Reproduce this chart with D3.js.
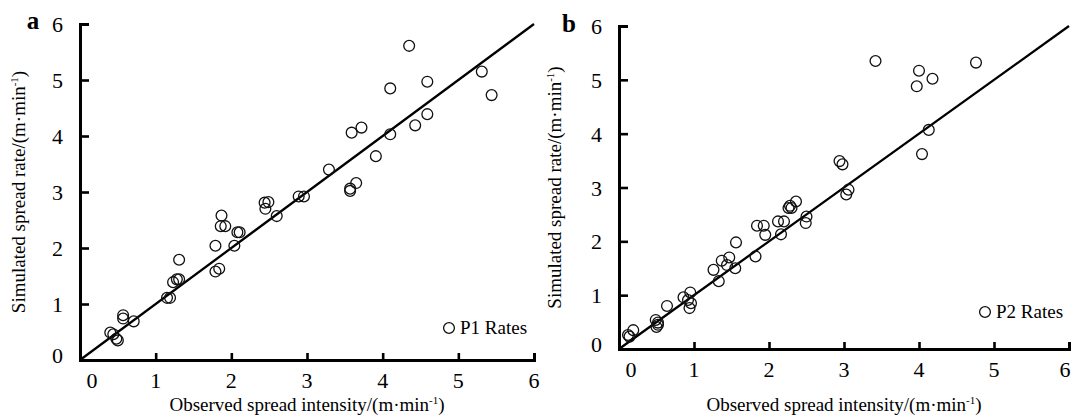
<!DOCTYPE html>
<html>
<head>
<meta charset="utf-8">
<script src="https://cdn.jsdelivr.net/npm/d3@7"></script>
<style>
  html, body { margin: 0; padding: 0; background: #fff; }
  svg { display: block; }
</style>
</head>
<body>
<div id="chart"></div>
<script>
// tick labels, shared by both panels
const axisTicks = [0, 1, 2, 3, 4, 5, 6]

// panel a (P1)
const p1Obs = [0.40, 0.44, 0.48, 0.50, 0.57, 0.57, 0.71, 1.15, 1.19, 1.23, 1.28, 1.31, 1.31,
  1.79, 1.84, 1.79, 2.04, 1.87, 1.86, 1.92, 2.08, 2.11, 2.44, 2.49, 2.45, 2.60, 2.89, 2.96,
  3.29, 3.57, 3.57, 3.65, 3.59, 3.72, 3.91, 4.10, 4.43, 4.59, 4.10, 4.59, 4.35, 5.31, 5.44]
const p1Sim = [0.49, 0.46, 0.38, 0.35, 0.80, 0.74, 0.69, 1.11, 1.11, 1.39, 1.44, 1.44, 1.79,
  1.58, 1.63, 2.04, 2.04, 2.58, 2.39, 2.39, 2.28, 2.28, 2.81, 2.82, 2.70, 2.57, 2.92, 2.92,
  3.40, 3.06, 3.02, 3.16, 4.06, 4.15, 3.64, 4.03, 4.19, 4.39, 4.85, 4.97, 5.61, 5.15, 4.73]

// panel b (P2)
const p2Obs = [0.19, 0.12, 0.14, 0.49, 0.52, 0.52, 0.50, 0.64, 0.86, 0.95, 0.92, 0.96, 0.94,
  1.26, 1.33, 1.37, 1.47, 1.44, 1.55, 1.56, 1.82, 1.84, 1.93, 1.95, 2.12, 2.20, 2.16,
  2.36, 2.28, 2.30, 2.26, 2.50, 2.49, 2.94, 2.98, 3.06, 3.03, 3.42, 4.00, 4.18, 3.97, 4.76,
  4.13, 4.04]
const p2Sim = [0.35, 0.26, 0.23, 0.54, 0.49, 0.45, 0.41, 0.80, 0.96, 1.05, 0.91, 0.85, 0.76,
  1.47, 1.26, 1.64, 1.70, 1.56, 1.50, 1.98, 1.72, 2.29, 2.29, 2.12, 2.37, 2.37, 2.13,
  2.74, 2.66, 2.62, 2.62, 2.46, 2.34, 3.49, 3.43, 2.96, 2.87, 5.35, 5.17, 5.02, 4.88, 5.32,
  4.07, 3.62]

const panels = [
  { tag: 'a', legend: 'P1 Rates', obs: p1Obs, sim: p1Sim,
    x0: 80, x1: 534, y0: 360, y1: 24, yTitleX: 19, tagX: 33, tagY: 29,
    legX: 449, legY: 328, titleY: 411 },
  { tag: 'b', legend: 'P2 Rates', obs: p2Obs, sim: p2Sim,
    x0: 619, x1: 1069, y0: 349, y1: 26, yTitleX: 555, tagX: 569, tagY: 32,
    legX: 985, legY: 312, titleY: 411 },
]

const FONT = "'Liberation Serif', 'Times New Roman', serif"

const svg = d3.select('#chart').append('svg')
  .attr('width', 1071)
  .attr('height', 416)
  .style('font-family', FONT)

function unitText(sel, label) {
  sel.append('tspan').text(label + '/(m·min')
  sel.append('tspan').attr('dy', -7).attr('font-size', '11px').text('-1')
  sel.append('tspan').attr('dy', 7).text(')')
}

panels.forEach(p => {
  const x = d3.scaleLinear().domain([0, 6]).range([p.x0, p.x1])
  const y = d3.scaleLinear().domain([0, 6]).range([p.y0, p.y1])
  const g = svg.append('g')

  // 1:1 line
  g.append('line')
    .attr('x1', x(0)).attr('y1', y(0))
    .attr('x2', x(6)).attr('y2', y(6))
    .attr('stroke', '#000').attr('stroke-width', 2.3)

  // points
  g.append('g').selectAll('circle')
    .data(p.obs.map((v, i) => [v, p.sim[i]]))
    .join('circle')
    .attr('cx', d => x(d[0]))
    .attr('cy', d => y(d[1]))
    .attr('r', 5.4)
    .attr('fill', 'none')
    .attr('stroke', '#111')
    .attr('stroke-width', 1.3)

  // axes (ticks inward)
  const xAxis = g.append('g')
    .attr('transform', `translate(0,${p.y0})`)
    .call(d3.axisTop(x).tickValues(axisTicks).tickSize(7).tickFormat(''))
  const yAxis = g.append('g')
    .attr('transform', `translate(${p.x0},0)`)
    .call(d3.axisRight(y).tickValues(axisTicks).tickSize(9).tickFormat(''))
  ;[xAxis, yAxis].forEach(a => {
    a.select('.domain').attr('stroke', '#000').attr('stroke-width', 3)
    a.selectAll('.tick line').attr('stroke', '#000').attr('stroke-width', 2.6)
  })

  // tick labels
  g.append('g').selectAll('text')
    .data(axisTicks)
    .join('text')
    .attr('x', d => x(d) + (d === 0 ? 12 : 0) - (d === 6 && p.tag === 'b' ? 4 : 0))
    .attr('y', p.y0 + 28)
    .attr('text-anchor', 'middle')
    .attr('font-size', '22px')
    .text(d => d)
  g.append('g').selectAll('text')
    .data(axisTicks)
    .join('text')
    .attr('x', p.x0 - 17)
    .attr('y', d => y(d) + 8 - (d === 0 ? 5 : 0))
    .attr('text-anchor', 'end')
    .attr('font-size', '22px')
    .text(d => d)

  // titles
  g.append('text')
    .attr('x', (p.x0 + p.x1) / 2)
    .attr('y', p.titleY)
    .attr('text-anchor', 'middle')
    .attr('font-size', '19px')
    .call(unitText, 'Observed spread intensity')
  g.append('text')
    .attr('transform', `translate(${p.yTitleX + 6},${(p.y0 + p.y1) / 2}) rotate(-90)`)
    .attr('text-anchor', 'middle')
    .attr('font-size', '19px')
    .call(unitText, 'Simulated spread rate')

  // panel tag
  g.append('text')
    .attr('x', p.tagX).attr('y', p.tagY)
    .attr('text-anchor', 'middle')
    .attr('font-size', '25px')
    .attr('font-weight', 'bold')
    .text(p.tag)

  // legend
  g.append('circle')
    .attr('cx', p.legX).attr('cy', p.legY).attr('r', 5.4)
    .attr('fill', 'none').attr('stroke', '#111').attr('stroke-width', 1.3)
  g.append('text')
    .attr('x', p.legX + 11).attr('y', p.legY + 6)
    .attr('font-size', '19px')
    .text(p.legend)
})
</script>
</body>
</html>
